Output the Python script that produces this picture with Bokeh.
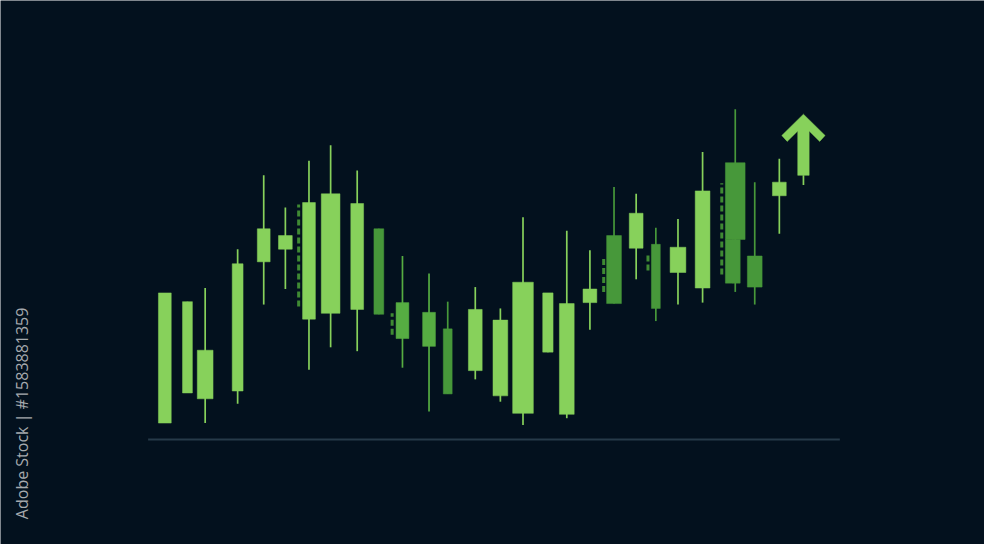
import math
from bokeh.plotting import figure
from bokeh.models import Range1d, ColumnDataSource, Label
from bokeh.embed import file_html
from bokeh.resources import INLINE

# ---------------- data (time position, prices) ----------------
t      = [167, 190, 208, 241, 267.5, 289.5, 313.5, 335.5, 362.5, 384.5,
          408.5, 435.5, 454.5, 482.5, 508, 531, 556.3, 575.5, 599, 623.5,
          646, 666, 688.5, 713.5, 746.7, 744.2, 766.5, 791.5]
open_  = [17, 48, 42, 50, 183, 196, 124, 130, 134, 217,
          104, 96, 114, 71, 45, 27, 90, 26, 141, 210,
          197, 201, 172, 156, 285, 206, 189, 251]
close  = [151, 142, 92, 181, 217, 210, 244, 253, 243, 129,
          141, 131, 47, 134, 123, 162, 151, 140, 155, 140,
          233, 135, 198, 256, 206, 161, 157, 265]
high   = [151, 142, 156, 196, 272, 239, 287, 303, 277, 217,
          189, 171, 142, 157, 135, 229, 151, 215, 195, 260,
          253, 218, 227, 296, 340, 206, 265, 289]
low    = [17, 48, 17, 37, 139, 155, 72, 95, 91, 129,
          74, 29, 47, 62, 39, 15, 90, 22, 113, 140,
          165, 122, 139, 141, 152, 161, 139, 212]
tone   = ["up", "up", "up", "up", "up", "up", "up", "up", "up", "down",
          "mid", "mid", "down", "up", "up", "up", "up", "up", "up", "down",
          "up", "down", "up", "up", "down", "down", "down", "up"]
body_w = [13, 10, 16, 11, 13, 14, 13, 19, 13, 10,
          13, 13, 9, 14, 15, 21, 10.5, 15, 14, 15,
          14, 9, 16, 15, 20, 15, 15, 14]

# ghost (dashed) candles
ghost_t    = [303, 398, 613, 658, 733]
ghost_high = [242, 130, 186, 192, 264]
ghost_low  = [137, 108, 152, 174, 170]

# trend arrow
arrow_t    = [816]
arrow_base = [272]
arrow_tip  = [335]
arrow_low  = [262]

baseline_t = [150, 853]
baseline_v = [0, 0]

# ---------------- style ----------------
BG = "#03111e"
COLORS = {"up": "#87d15b", "mid": "#56ad42", "down": "#47983a"}

p = figure(width=984, height=544, output_backend="svg", toolbar_location=None,
           x_range=Range1d(0, 1000), y_range=Range1d(-108, 452),
           min_border=0, background_fill_color=BG, border_fill_color=BG,
           outline_line_color=None)
p.axis.visible = False
p.grid.visible = False

cols = [COLORS[k] for k in tone]
src = ColumnDataSource(dict(
    t=t, high=high, low=low, width=body_w, color=cols,
    top=[max(o, c) for o, c in zip(open_, close)],
    bottom=[min(o, c) for o, c in zip(open_, close)],
))

# baseline
p.line(baseline_t, baseline_v, line_color="#263a49", line_width=2)

# ghost candles
p.segment(x0=ghost_t, y0=ghost_low, x1=ghost_t, y1=ghost_high,
          line_color="#3f8a33", line_width=3, line_dash="6 3")

# wicks and bodies
p.segment(x0="t", y0="low", x1="t", y1="high", source=src,
          line_color="color", line_width=1.7)
p.vbar(x="t", width="width", top="top", bottom="bottom", source=src,
       fill_color="color", line_color="color", line_width=0.5)

# arrow
for ax, ab, at, al in zip(arrow_t, arrow_base, arrow_tip, arrow_low):
    p.segment(x0=[ax], y0=[al], x1=[ax], y1=[ab], line_color=COLORS["up"], line_width=1.7)
    hw = 5.8      # shaft half width
    wing = 22     # outer wing reach
    cap = 5.5     # wing thickness offset
    ys = at - wing            # outer wing y
    xs = [ax, ax + wing, ax + wing - cap, ax + hw, ax + hw, ax - hw, ax - hw,
          ax - wing + cap, ax - wing]
    lower_y = ys - cap * 1.1
    inner_y = lower_y + (wing - cap - hw)
    ysl = [at, ys, lower_y, inner_y, ab, ab, inner_y, lower_y, ys]
    p.patch(xs, ysl, fill_color=COLORS["up"], line_color=COLORS["up"], line_width=0.5)

# side credit text
p.add_layout(Label(x=22, y=27, text="Adobe Stock | #1583881359", angle=math.pi / 2,
                   text_align="center", text_baseline="middle",
                   text_font="Open Sans", text_font_size="16px",
                   text_color="#a6aaae"))

html = file_html(p, INLINE)
html = html.replace("<body>", '<body style="background:%s;">' % BG, 1)
open("out.html", "w").write(html)
